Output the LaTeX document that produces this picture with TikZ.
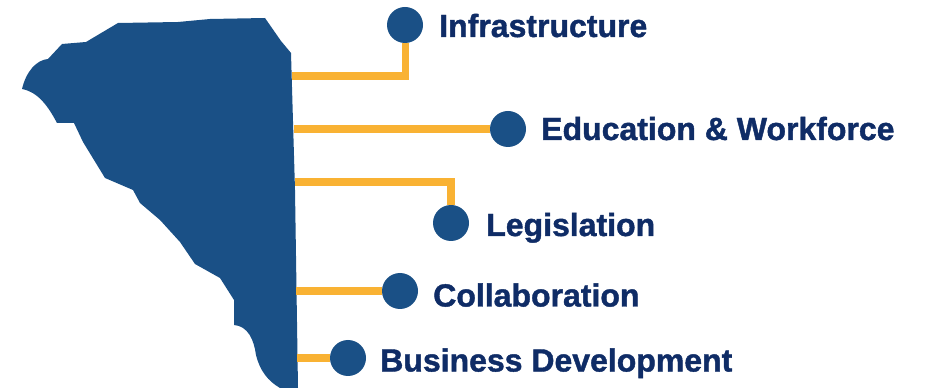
\documentclass[tikz,border=0pt]{standalone}
\usepackage{fontspec}
\setmainfont[BoldFeatures={FakeBold=1.3}]{Liberation Sans}
\definecolor{mapblue}{HTML}{1A5086}
\definecolor{linkgold}{HTML}{F9B233}
\definecolor{labelnavy}{HTML}{0F2C66}
\tikzset{
  dot/.style={circle,fill=mapblue,draw=none,minimum size=27pt,inner sep=0pt},
  link/.style={draw=linkgold,line width=5.7pt},
  lab/.style={anchor=base west,text=labelnavy,inner sep=0pt,font=\fontsize{24pt}{26pt}\selectfont\bfseries}
}
\begin{document}
\begin{tikzpicture}[x=0.75pt,y=-0.75pt]
\useasboundingbox (0,0) rectangle (925,388);
\fill[mapblue] (22,89) .. controls (26,72) and (36,60) .. (48,59) -- (62,44) -- (86,42) -- (118,23)
  -- (178,22) -- (210,19) -- (265,18) -- (281,41) -- (291,53) -- (295,190) -- (298,388) -- (280,388)
  .. controls (268,381) and (260,371) .. (256,355) .. controls (254,340) and (248,326) .. (234,325)
  -- (234,300) -- (220,278) -- (195,264) -- (180,242) -- (160,220) -- (140,203) -- (133,190)
  -- (105,178) -- (83,142) -- (74,123) -- (57,123) .. controls (48,106) and (38,92) .. (22,89) -- cycle;
\coordinate (s1) at (292,76);
\coordinate (s2) at (294,129);
\coordinate (s3) at (295,182);
\coordinate (s4) at (296,291);
\coordinate (s5) at (297,358);
\coordinate (b1) at (405.5,76);
\coordinate (b3) at (451,182);
\node[dot] (d1) at (405,25) {};
\node[dot] (d2) at (508,129) {};
\node[dot] (d3) at (451,223) {};
\node[dot] (d4) at (400,291) {};
\node[dot] (d5) at (348,358) {};
\draw[link] (s1) -- (b1) -- (b1 |- d1.south);
\draw[link] (s2) -- (d2.west);
\draw[link] (s3) -- (b3) -- (d3.north);
\draw[link] (s4) -- (d4.west);
\draw[link] (s5) -- (d5.west);
\node[lab] (t1) at (439,37) {Infrastructure};
\node[lab] (t2) at (541,140) {Education \& Workforce};
\node[lab] (t3) at (486,236) {Legislation};
\node[lab] (t4) at (433,306.5) {Collaboration};
\node[lab] (t5) at (380,371.5) {Business Development};
\end{tikzpicture}
\end{document}
